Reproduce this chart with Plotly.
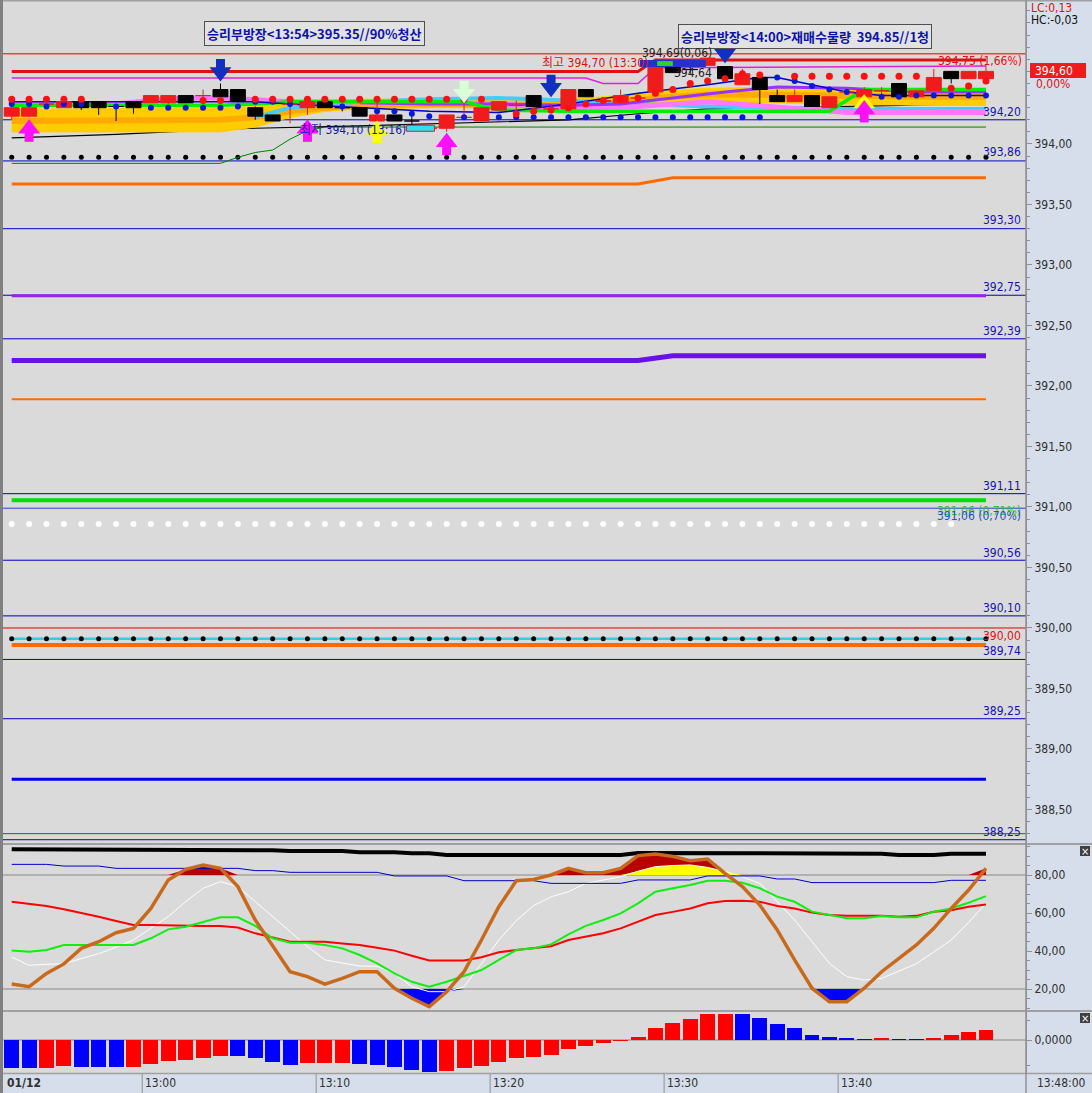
import plotly.graph_objects as go
import numpy as np

# ================= DATA =================
trade_date = "01/12"
time_ticks = [8, 18, 28, 38, 48]          # minutes after 12:52 (one candle per minute)
time_tick_labels = ["13:00", "13:10", "13:20", "13:30", "13:40"]
last_time_label = "13:48:00"

opens = [394.23, 394.23, 394.33, 394.30, 394.35, 394.35, 394.315, 394.35, 394.34, 394.34,
         394.40, 394.40, 394.45, 394.45, 394.30, 394.24, 394.33, 394.30, 394.35, 394.305,
         394.30, 394.19, 394.24, 394.195, 394.13, 394.13, 394.22, 394.19, 394.28, 394.32,
         394.40, 394.29, 394.29, 394.45, 394.35, 394.34, 394.38, 394.43, 394.64, 394.62,
         394.65, 394.64, 394.49, 394.55, 394.40, 394.35, 394.40, 394.30, 394.43, 394.39,
         394.44, 394.50, 394.39, 394.44, 394.60, 394.54, 394.54]
highs = [394.31, 394.32, 394.37, 394.36, 394.36, 394.35, 394.32, 394.35, 394.40, 394.40,
         394.40, 394.45, 394.50, 394.45, 394.31, 394.24, 394.36, 394.35, 394.35, 394.31,
         394.30, 394.35, 394.24, 394.25, 394.16, 394.24, 394.37, 394.30, 394.35, 394.36,
         394.40, 394.33, 394.45, 394.45, 394.37, 394.45, 394.39, 394.64, 394.64, 394.66,
         394.71, 394.64, 394.62, 394.55, 394.45, 394.45, 394.40, 394.39, 394.44, 394.47,
         394.47, 394.50, 394.44, 394.62, 394.60, 394.60, 394.65]
lows = [394.20, 394.22, 394.31, 394.30, 394.28, 394.24, 394.19, 394.25, 394.34, 394.33,
        394.34, 394.35, 394.39, 394.35, 394.20, 394.19, 394.17, 394.24, 394.30, 394.27,
        394.23, 394.19, 394.19, 394.16, 394.10, 394.10, 394.20, 394.19, 394.28, 394.27,
        394.31, 394.25, 394.29, 394.39, 394.35, 394.34, 394.38, 394.43, 394.59, 394.58,
        394.65, 394.54, 394.49, 394.33, 394.35, 394.35, 394.31, 394.30, 394.41, 394.39,
        394.41, 394.39, 394.39, 394.44, 394.50, 394.54, 394.54]
closes = [394.30, 394.30, 394.335, 394.35, 394.30, 394.30, 394.31, 394.30, 394.40, 394.40,
          394.34, 394.405, 394.39, 394.35, 394.23, 394.19, 394.335, 394.35, 394.30, 394.30,
          394.23, 394.24, 394.19, 394.19, 394.135, 394.24, 394.225, 394.30, 394.35, 394.325,
          394.31, 394.295, 394.45, 394.39, 394.36, 394.40, 394.385, 394.64, 394.59, 394.615,
          394.71, 394.54, 394.58, 394.45, 394.35, 394.40, 394.31, 394.39, 394.435, 394.45,
          394.445, 394.39, 394.44, 394.55, 394.54, 394.60, 394.60]

N = len(closes)
nan = None
red_dots = [394.37, 394.37, 394.37, 394.37, 394.37, nan, nan, nan, nan, nan,
            nan, 394.36, 394.36, nan, 394.37, 394.37, 394.37, 394.37, 394.37, 394.37,
            394.37, 394.37, 394.37, 394.37, 394.37, 394.37, 394.37, 394.37, nan, 394.25,
            394.27, 394.28, 394.30, 394.33, 394.36, 394.37, 394.38, 394.42, 394.45, 394.50,
            394.52, 394.54, 394.58, 394.57, nan, 394.56, 394.56, 394.56, 394.56, 394.56,
            394.56, 394.56, 394.56, nan, 394.46, 394.48, 394.52]
blue_dots = [394.33, 394.33, 394.31, 394.33, 394.33, nan, 394.31, nan, 394.30, 394.30,
             394.30, 394.30, 394.30, 394.31, 394.35, 394.35, 394.33, nan, nan, 394.31,
             nan, 394.27, 394.27, 394.25, 394.23, nan, 394.22, nan, 394.22, 394.22,
             394.22, 394.22, 394.22, 394.22, 394.22, 394.22, 394.22, 394.22, 394.22, 394.22,
             394.22, 394.22, 394.22, 394.22, 394.55, 394.52, 394.48, 394.45, 394.43, nan,
             394.39, 394.39, 394.40, 394.40, 394.40, 394.40, 394.40]

# moving-average ribbon (candle index, price)
ma_yel_idx = [0, 4, 8, 12, 14, 16, 18, 20, 24, 28, 32, 35, 37, 40, 44, 48, 52, 56]
ma_yel_hi = [394.29, 394.29, 394.30, 394.30, 394.31, 394.34, 394.36, 394.37, 394.37, 394.37,
             394.37, 394.40, 394.44, 394.46, 394.47, 394.46, 394.46, 394.46]
ma_yel_lo = [394.10, 394.10, 394.10, 394.10, 394.14, 394.22, 394.27, 394.29, 394.30, 394.30,
             394.29, 394.30, 394.33, 394.35, 394.34, 394.33, 394.32, 394.32]
ma_org = [394.19, 394.19, 394.19, 394.20, 394.22, 394.27, 394.30, 394.32, 394.33, 394.33,
          394.32, 394.34, 394.38, 394.41, 394.41, 394.40, 394.39, 394.39]
ma_pink_idx = [0, 6, 8, 10, 12, 14, 16, 20, 24, 28, 32, 36, 40, 44, 48, 52, 56]
ma_pink = [394.33, 394.33, 394.36, 394.38, 394.38, 394.36, 394.35, 394.35, 394.34, 394.33,
           394.30, 394.31, 394.35, 394.30, 394.26, 394.26, 394.26]
ma_grn_idx = [0, 8, 12, 14, 16, 26, 28, 32, 40, 47, 49, 56]
ma_grn = [394.32, 394.32, 394.32, 394.33, 394.35, 394.35, 394.28, 394.27, 394.27, 394.27, 394.45, 394.45]
ma_cyn_idx = [14, 16, 20, 24, 28, 32, 36, 40, 44, 48, 52, 56]
ma_cyn = [394.22, 394.30, 394.35, 394.37, 394.38, 394.36, 394.33, 394.31, 394.30, 394.29, 394.29, 394.29]
ma_pur_idx = [20, 24, 28, 32, 35, 38, 41, 44, 48, 52, 56]
ma_pur = [394.34, 394.33, 394.33, 394.32, 394.33, 394.38, 394.43, 394.47, 394.46, 394.43, 394.43]
ma_blk_idx = [0, 6, 12, 14, 20, 28, 32, 36, 40, 44, 48, 52, 56]
ma_blk = [394.05, 394.08, 394.12, 394.13, 394.15, 394.18, 394.20, 394.25, 394.29, 394.30, 394.31, 394.32, 394.34]
ma_dbl_idx = [0, 14, 16, 20, 24, 28, 32, 36, 40, 43, 44, 46, 48, 50, 56]
ma_dbl = [394.35, 394.35, 394.33, 394.30, 394.27, 394.26, 394.33, 394.42, 394.49, 394.55, 394.55, 394.49,
          394.43, 394.40, 394.40]
gstep_idx = [0, 12, 13, 14, 15, 16, 17, 18, 56]
gstep = [393.84, 393.84, 393.89, 393.93, 393.95, 394.04, 394.11, 394.14, 394.14]
mag_idx = [0, 33, 34, 36, 37, 56]
mag = [394.545, 394.545, 394.50, 394.50, 394.63, 394.645]
redthick_idx = [0, 36, 37, 56]
redthick = [394.60, 394.60, 394.695, 394.695]

# long horizontal indicator lines (candle index, price)
org1_idx = [0, 36, 38, 56]
org1 = [393.67, 393.67, 393.72, 393.72]
pur2_idx = [0, 36, 38, 56]
pur2 = [392.21, 392.21, 392.25, 392.25]
pur1_level = 392.745
org2_level = 391.89
grn_level = 391.055
blu_thick_level = 388.75
org3_level = 389.86
cyan_level = 389.91
black_dots_hi = 393.89
black_dots_lo = 389.91
white_dots_level = 390.86
white_dots_count = 55

# full-width level lines with labels
levels = [394.20, 393.86, 393.30, 392.75, 392.39, 391.11, 390.56, 390.10, 389.74, 389.25, 388.25]
red_levels = [394.745, 390.00]
thin_blue_extra = 390.99
thin_green_extra = 388.30

price_ticks = [388.5, 389.0, 389.5, 390.0, 390.5, 391.0, 391.5, 392.0, 392.5, 393.0, 393.5, 394.0]

# signal arrows: (candle index, price, kind)
arrows = [(12, 394.62, "sell"), (31, 394.49, "sell"), (41, 394.77, "sell"),
          (1, 394.10, "buy"), (17, 394.10, "buy"), (21, 394.09, "buy2"),
          (25, 393.99, "buy"), (26, 394.44, "watch"), (49, 394.31, "buy2"), (49, 394.26, "buy")]

# stochastic panel
stoch_k = [22.6, 21.2, 28.2, 33.2, 41.4, 44.9, 49.6, 51.9, 62.4, 77.4,
           83.0, 85.3, 83.5, 73.9, 56.3, 42.3, 29.1, 26.5, 22.6, 25.6,
           29.1, 29.1, 20.4, 15.1, 10.7, 18.6, 29.1, 45.8, 63.3, 77.0,
           77.7, 80.0, 83.5, 81.2, 81.2, 83.5, 90.2, 91.1, 89.8, 87.5,
           88.4, 80.9, 73.9, 64.2, 51.1, 35.3, 20.4, 13.3, 13.3, 20.4,
           29.1, 36.1, 43.2, 51.9, 62.4, 72.1, 83.5]
stoch_w = [36.8, 32.5, 33.0, 33.3, 36.0, 38.6, 42.0, 45.8, 52.0, 58.1,
           66.0, 73.0, 76.5, 73.9, 66.0, 58.1, 50.0, 42.3, 35.3, 33.5,
           32.1, 32.0, 28.2, 21.2, 18.6, 18.6, 21.2, 33.3, 45.8, 55.9,
           63.9, 68.5, 71.2, 75.6, 77.5, 79.1, 82.0, 84.4, 85.0, 85.3,
           84.0, 81.8, 79.0, 75.6, 66.0, 56.3, 44.9, 33.5, 26.5, 24.7,
           25.6, 29.5, 33.3, 39.5, 45.8, 55.0, 65.1]
stoch_g = [40.2, 39.6, 40.5, 43.2, 43.2, 43.2, 43.2, 43.2, 46.7, 51.4,
           52.8, 55.4, 57.7, 57.7, 53.2, 46.7, 44.4, 44.4, 43.2, 41.4,
           37.9, 33.5, 28.2, 23.8, 21.2, 23.8, 26.8, 30.0, 35.3, 40.5,
           41.4, 43.5, 48.8, 53.2, 56.3, 59.8, 65.1, 71.2, 73.0, 74.7,
           77.0, 77.0, 75.9, 73.0, 68.6, 65.9, 60.7, 58.9, 57.2, 57.2,
           58.4, 57.7, 57.7, 60.7, 62.4, 65.4, 68.9]
stoch_r = [65.9, 64.8, 63.7, 62.0, 60.2, 58.0, 55.8, 53.7, 53.7, 53.5,
           53.2, 53.2, 53.2, 52.4, 49.3, 47.2, 44.9, 44.9, 44.9, 44.0,
           43.2, 41.7, 40.2, 37.5, 35.0, 35.0, 35.0, 36.7, 39.3, 40.5,
           41.4, 42.5, 45.8, 47.5, 49.3, 51.9, 55.4, 58.9, 60.6, 62.4,
           65.1, 66.3, 66.5, 65.9, 63.7, 62.4, 60.2, 58.9, 58.5, 58.5,
           58.5, 58.0, 58.5, 60.7, 61.5, 63.3, 64.5]
stoch_black = [93.5] * 14 + [93.0] * 2 + [92.6] * 4 + [92.0] * 3 + [91.4] * 2 + [90.5] * 11 + \
              [91.6] * 8 + [91.2] * 7 + [90.5] * 3 + [91.2] * 3
stoch_blue = [85.6] * 3 + [84.7] * 3 + [83.5] * 8 + [82.3] * 2 + [81.4] * 6 + [79.5] * 4 + \
             [77.0] * 5 + [75.6] * 5 + [77.4] * 4 + [79.5] * 4 + [77.9] * 2 + [76.0] * 8 + [77.2] * 3
stoch_ticks = [20, 40, 60, 80]

# MACD oscillator histogram (x 0.001) and direction (1 rising=red, -1 falling=blue)
macd_hist = [-28.3, -28.3, -27.7, -26.0, -26.7, -26.7, -26.7, -27.0, -24.0, -20.7,
             -20.0, -17.7, -15.7, -15.7, -18.3, -22.3, -25.0, -22.7, -22.7, -22.7,
             -23.7, -25.0, -26.7, -29.7, -31.7, -30.7, -28.3, -26.0, -21.7, -17.7,
             -16.7, -15.0, -9.3, -5.7, -3.3, -0.7, 3.0, 11.7, 17.3, 21.0,
             26.0, 26.0, 26.0, 22.3, 16.0, 12.3, 5.0, 3.0, 1.3, 1.0,
             2.0, 0.3, 0.3, 2.0, 5.0, 8.3, 10.3]
macd_dir = [-1, -1, 1, 1, -1, -1, -1, 1, 1, 1, 1, 1, 1, -1, -1, -1, -1, 1, 1, 1,
            -1, -1, -1, -1, -1, 1, 1, 1, 1, 1, 1, 1, 1, 1, 1, 1, 1, 1, 1, 1,
            1, 1, -1, -1, -1, -1, -1, -1, -1, -1, 1, -1, -1, 1, 1, 1, 1]

# ================= LAYOUT HELPERS =================
W, H = 1092, 1093
ML, MR, MT, MB = 3, 66, 0, 20
PW, PH = W - ML - MR, H - MT - MB


def pxx(x):
    return (x - ML) / PW


def pxy(y):
    return (PH - (y - MT)) / PH


def cx(i):
    return i + 0.5


NUMF = "Liberation Sans Narrow, DejaVu Sans Condensed, Liberation Sans, Arial"
KRF = "Noto Sans CJK KR"
RED = "#f01c1c"

fig = go.Figure()
X = [cx(i) for i in range(N)]


def line(idx, vals, color, width, ax="", dash=None):
    fig.add_trace(go.Scatter(x=[cx(i) for i in idx], y=vals, mode="lines",
                             line=dict(color=color, width=width, dash=dash),
                             xaxis="x" + ax, yaxis="y" + ax, hoverinfo="skip", showlegend=False))


# ---- long indicator lines ----
line(org1_idx, org1, "#ff6a00", 3)
line(pur2_idx, pur2, "#6a10e8", 5)
line([0, N - 1], [pur1_level] * 2, "#9a20f0", 3)
line([0, N - 1], [org2_level] * 2, "#ff6a00", 2)
line([0, N - 1], [grn_level] * 2, "#00e000", 4)
line([0, N - 1], [blu_thick_level] * 2, "#0000e6", 3)
line([0, N - 1], [cyan_level] * 2, "#38c8e8", 2.5)
line([0, N - 1], [org3_level] * 2, "#ff6a00", 4)

fig.add_trace(go.Scatter(x=X, y=[black_dots_hi] * N, mode="markers", marker=dict(color="black", size=5),
                         hoverinfo="skip", showlegend=False))
fig.add_trace(go.Scatter(x=X, y=[black_dots_lo] * N, mode="markers", marker=dict(color="black", size=5),
                         hoverinfo="skip", showlegend=False))
fig.add_trace(go.Scatter(x=X[:white_dots_count], y=[white_dots_level] * white_dots_count, mode="markers",
                         marker=dict(color="white", size=6), hoverinfo="skip", showlegend=False))

# ---- ribbon ----
line(gstep_idx, gstep, "#008000", 1)
line(ma_blk_idx, ma_blk, "#000000", 1.2)
fig.add_trace(go.Scatter(x=[cx(i) for i in ma_yel_idx], y=ma_yel_lo, mode="lines",
                         line=dict(color="#ffc800", width=1), hoverinfo="skip", showlegend=False))
fig.add_trace(go.Scatter(x=[cx(i) for i in ma_yel_idx], y=ma_yel_hi, mode="lines", fill="tonexty",
                         fillcolor="#ffcc00", line=dict(color="#ffd800", width=1),
                         hoverinfo="skip", showlegend=False))
line(ma_yel_idx, ma_org, "#ffaa00", 6)
line(ma_cyn_idx, ma_cyn, "#44ccff", 4)
line(ma_pink_idx, ma_pink, "#ff77ff", 5)
line(ma_pur_idx, ma_pur, "#9933ff", 3)
line(ma_grn_idx, ma_grn, "#00ee00", 3.5)
line(ma_dbl_idx, ma_dbl, "#0000c8", 1.5)
line(mag_idx, mag, "#e020e0", 1.5)
line(redthick_idx, redthick, "#e01010", 3)

# ---- candles ----
hw = 0.43
for up, col in ((True, RED), (False, "#000000")):
    wx, wy, bx, by = [], [], [], []
    for i in range(N):
        o, h, l, c = opens[i], highs[i], lows[i], closes[i]
        if (c >= o) != up:
            continue
        x = cx(i)
        wx += [x, x, None]
        wy += [l, h, None]
        lo, hi = min(o, c), max(o, c)
        bx += [x - hw, x + hw, x + hw, x - hw, x - hw, None]
        by += [lo, lo, hi, hi, lo, None]
    fig.add_trace(go.Scatter(x=wx, y=wy, mode="lines", line=dict(color=col, width=1),
                             hoverinfo="skip", showlegend=False))
    fig.add_trace(go.Scatter(x=bx, y=by, mode="lines", fill="toself", fillcolor=col,
                             line=dict(color=col, width=1), hoverinfo="skip", showlegend=False))

fig.add_trace(go.Scatter(x=X, y=blue_dots, mode="markers", marker=dict(color="#0818e0", size=6),
                         hoverinfo="skip", showlegend=False))
fig.add_trace(go.Scatter(x=X, y=red_dots, mode="markers", marker=dict(color="#ff1010", size=7),
                         hoverinfo="skip", showlegend=False))

# ---- arrows ----
arrow_col = {"sell": "#1030c0", "buy": "#ff10ff", "buy2": "#ffff00", "watch": "#d8ffd8"}
for i, p, kind in arrows:
    col = arrow_col[kind]
    down = kind in ("sell", "watch")
    shaft_y = p + 0.045 if down else p - 0.045
    head_y = p - 0.025 if down else p + 0.025
    fig.add_trace(go.Scatter(x=[cx(i)], y=[shaft_y], mode="markers",
                             marker=dict(symbol="square", size=9, color=col, line=dict(width=0)),
                             hoverinfo="skip", showlegend=False))
    fig.add_trace(go.Scatter(x=[cx(i)], y=[head_y], mode="markers",
                             marker=dict(symbol="triangle-down" if down else "triangle-up", size=19, color=col,
                                         line=dict(width=0)),
                             hoverinfo="skip", showlegend=False))

# ---- stochastic panel ----
k = np.array(stoch_k)
wv = np.array(stoch_w)
for base, top, col in ((80, np.maximum(k, 80), "#b80000"), (80, np.maximum(wv, 80), "#ffff00"),
                       (20, np.minimum(k, 20), "#0000ff")):
    fig.add_trace(go.Scatter(x=X, y=[base] * N, mode="lines", line=dict(width=0), xaxis="x2", yaxis="y2",
                             hoverinfo="skip", showlegend=False))
    fig.add_trace(go.Scatter(x=X, y=top, mode="lines", fill="tonexty", fillcolor=col, line=dict(width=0),
                             xaxis="x2", yaxis="y2", hoverinfo="skip", showlegend=False))
line(range(N), stoch_w, "#ffffff", 1, ax="2")
line(range(N), stoch_r, "#ff0000", 2, ax="2")
line(range(N), stoch_g, "#10ee10", 2, ax="2")
line(range(N), stoch_blue, "#0000c8", 1, ax="2")
line(range(N), stoch_black, "#000000", 4, ax="2")
line(range(N), stoch_k, "#c86a1e", 3.5, ax="2")

# ---- MACD histogram ----
fig.add_trace(go.Bar(x=X, y=[v / 1000 for v in macd_hist], width=0.86,
                     marker=dict(color=["#ff0000" if d > 0 else "#0000ff" for d in macd_dir], line=dict(width=0)),
                     xaxis="x3", yaxis="y3", hoverinfo="skip", showlegend=False))

# ================= SHAPES =================
shapes = []
for v in levels:
    shapes.append(dict(type="line", xref="paper", yref="y", x0=0, x1=1, y0=v, y1=v,
                       line=dict(color="#0000c0", width=1), layer="below"))
for v in red_levels:
    shapes.append(dict(type="line", xref="paper", yref="y", x0=0, x1=1, y0=v, y1=v,
                       line=dict(color="#e00000", width=1), layer="below"))
shapes.append(dict(type="line", xref="paper", yref="y", x0=0, x1=1, y0=thin_blue_extra, y1=thin_blue_extra,
                   line=dict(color="#2040d0", width=1), layer="below"))
shapes.append(dict(type="line", xref="paper", yref="y", x0=0, x1=1, y0=thin_green_extra, y1=thin_green_extra,
                   line=dict(color="#008000", width=1), layer="below"))
# 394,69 marker bar
shapes.append(dict(type="rect", xref="x", yref="y", x0=36.6, x1=40.4, y0=394.636, y1=394.694,
                   fillcolor="#2830c8", line=dict(width=0)))
shapes.append(dict(type="rect", xref="x", yref="y", x0=37.6, x1=38.5, y0=394.645, y1=394.685,
                   fillcolor="#30d030", line=dict(width=0)))
# low marker
shapes.append(dict(type="rect", xref="x", yref="y", x0=23.2, x1=24.8, y0=394.105, y1=394.155,
                   fillcolor="#30e0f0", line=dict(color="#e02020", width=1)))
# stochastic guide lines
for v in (80, 20):
    shapes.append(dict(type="line", xref="paper", yref="y2", x0=0, x1=1, y0=v, y1=v,
                       line=dict(color="#888888", width=1), layer="below"))
shapes.append(dict(type="line", xref="paper", yref="y3", x0=0, x1=1, y0=0, y1=0,
                   line=dict(color="#888888", width=1), layer="below"))
# panel separators / borders
for yy in (844, 1011):
    shapes.append(dict(type="line", xref="paper", yref="paper", x0=pxx(0), x1=pxx(W), y0=pxy(yy), y1=pxy(yy),
                       line=dict(color="#a0a0a0", width=2)))
shapes.append(dict(type="line", xref="paper", yref="paper", x0=pxx(0), x1=pxx(W), y0=pxy(1073.5), y1=pxy(1073.5),
                   line=dict(color="#a0a0a0", width=1.5)))
shapes.append(dict(type="line", xref="paper", yref="paper", x0=pxx(0), x1=pxx(W), y0=pxy(0.75), y1=pxy(0.75),
                   line=dict(color="#a0a0a0", width=1.5)))
shapes.append(dict(type="line", xref="paper", yref="paper", x0=pxx(1.5), x1=pxx(1.5), y0=pxy(0), y1=pxy(H),
                   line=dict(color="#808080", width=3)))
shapes.append(dict(type="line", xref="paper", yref="paper", x0=pxx(1026), x1=pxx(1026), y0=pxy(0), y1=pxy(H),
                   line=dict(color="#909090", width=1.5)))
# time ticks in bottom strip
for t in time_ticks:
    shapes.append(dict(type="line", xref="x3", yref="paper", x0=t, x1=t, y0=pxy(1074), y1=pxy(H),
                       line=dict(color="#909090", width=1)))
# price box on right axis
shapes.append(dict(type="rect", xref="paper", yref="paper", x0=pxx(1030), x1=pxx(1086), y0=pxy(78), y1=pxy(63),
                   fillcolor="#f01c1c", line=dict(width=0)))
# close buttons
for yy in (851, 1018):
    shapes.append(dict(type="rect", xref="paper", yref="paper", x0=pxx(1080), x1=pxx(1090), y0=pxy(yy + 5),
                       y1=pxy(yy - 5), fillcolor="#404040", line=dict(width=0)))

# ================= ANNOTATIONS =================
ann = []


def txt(x, y, s, color, size=12, xanchor="left", font=NUMF, **kw):
    ann.append(dict(x=pxx(x), y=pxy(y), xref="paper", yref="paper", text=s, showarrow=False,
                    xanchor=xanchor, yanchor="middle", font=dict(family=font, size=size, color=color), **kw))


def fmt(v, d=2):
    return f"{v:.{d}f}".replace(".", ",")


# boxes
ann.append(dict(x=pxx(314), y=pxy(33), xref="paper", yref="paper", showarrow=False,
                xanchor="center", yanchor="middle",
                text="<b>승리부방장&lt;13:54&gt;395.35//90%청산</b>",
                font=dict(family=KRF, size=13, color="#0c14a8"), bgcolor="#e2e2e2",
                bordercolor="#505050", borderwidth=1, borderpad=2))
ann.append(dict(x=pxx(805), y=pxy(37), xref="paper", yref="paper", showarrow=False,
                xanchor="center", yanchor="middle",
                text="<b>승리부방장&lt;14:00&gt;재매수물량  394.85//1청</b>",
                font=dict(family=KRF, size=13, color="#0c14a8"), bgcolor="#e2e2e2",
                bordercolor="#505050", borderwidth=1, borderpad=2))
txt(540, 63, "최고 394,70 (13:30)", "#e01010", 12, font=NUMF + ", " + KRF)
txt(640, 53, "394,69(0,06)", "#202020", 12)
txt(672, 73, "394,64", "#202020", 12)
txt(1024, 61, f"{fmt(red_levels[0])} (1,66%)", "#e01010", 12, xanchor="right")
txt(298, 130, "최저 394,10 (13:16)", "#1818b0", 12, font=NUMF + ", " + KRF)

# level labels
lab_y = {394.20: 112, 393.86: 152, 393.30: 220, 392.75: 287, 392.39: 331, 391.11: 486,
         390.56: 553, 390.10: 608, 389.74: 651, 389.25: 711, 388.25: 832}
for v in levels:
    txt(1023, lab_y[v], fmt(v), "#1414b0", 12, xanchor="right")
txt(1023, 511, f"{fmt(grn_level + 0.005)} (0,71%)", "#30c030", 12, xanchor="right")
txt(1023, 516, f"{fmt(grn_level + 0.005)} (0,70%)", "#2050d0", 12, xanchor="right")
txt(1023, 636, fmt(red_levels[1]), "#e01010", 12, xanchor="right")

# right strip
txt(1029, 8, "LC:0,13", "#e01010", 12)
txt(1029, 20, "HC:-0,03", "#101010", 12)
txt(1033, 71, fmt(closes[-1]), "#ffffff", 12)
txt(1034, 84, "0,00%", "#e01010", 12)
for yy in (851, 1018):
    txt(1085, yy, "×", "#ffffff", 10, xanchor="center", font="DejaVu Sans")

# bottom strip
txt(5, 1083, f"<b>{trade_date}</b>", "#303030", 12)
for t, s in zip(time_ticks, time_tick_labels):
    ann.append(dict(x=t, y=pxy(1083), xref="x3", yref="paper", text=s, showarrow=False, xanchor="left",
                    xshift=1, yanchor="middle", font=dict(family=NUMF, size=12, color="#303030")))
txt(1035, 1083, last_time_label, "#303030", 12)

# ================= AXES =================
XR = [0, 58.8]
xcommon = dict(range=XR, showticklabels=False, showgrid=False, zeroline=False, ticks="", showline=False,
               fixedrange=True)
tickfont = dict(family=NUMF, size=12, color="#303030")
ycommon = dict(side="right", showgrid=False, zeroline=False, showline=True, linecolor="#909090", linewidth=1,
               ticks="outside", ticklen=5, tickcolor="#909090", tickfont=tickfont, fixedrange=True)

fig.update_layout(
    width=W, height=H, margin=dict(l=ML, r=MR, t=MT, b=MB, pad=0),
    paper_bgcolor="#d5deea", plot_bgcolor="#dadada", showlegend=False,
    xaxis=dict(domain=[0, 1], anchor="y", **xcommon),
    xaxis2=dict(domain=[0, 1], anchor="y2", **xcommon),
    xaxis3=dict(domain=[0, 1], anchor="y3", **xcommon),
    yaxis=dict(domain=[pxy(843), 1], anchor="x", range=[388.223, 395.19],
               tickvals=price_ticks, ticktext=[fmt(v) for v in price_ticks],
               minor=dict(dtick=0.1, ticks="outside", ticklen=3, tickcolor="#909090"), **ycommon),
    yaxis2=dict(domain=[pxy(1010), pxy(845)], anchor="x2", range=[8.95, 95.79],
                tickvals=stoch_ticks, ticktext=[fmt(v) for v in stoch_ticks],
                minor=dict(dtick=5, ticks="outside", ticklen=3, tickcolor="#909090"), **ycommon),
    yaxis3=dict(domain=[0, pxy(1012)], anchor="x3", range=[-0.033, 0.028],
                tickvals=[0], ticktext=["0,0000"],
                minor=dict(tickvals=[0.02, -0.025], ticks="outside", ticklen=3, tickcolor="#909090"), **ycommon),
    shapes=shapes, annotations=ann, bargap=0,
)

fig.write_html("out.html", config={"displayModeBar": False},
               post_script="document.body.style.margin='0px';document.body.style.overflow='hidden';")
